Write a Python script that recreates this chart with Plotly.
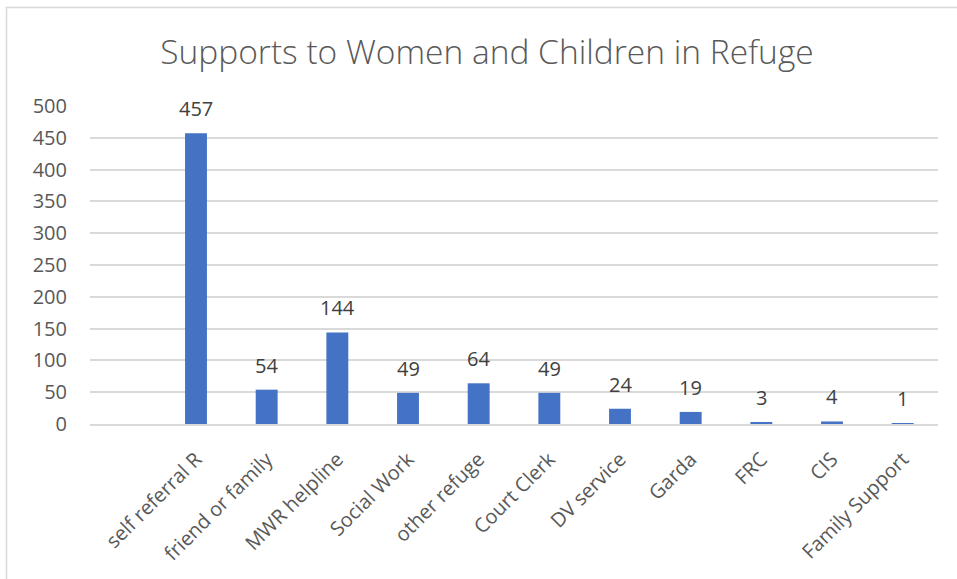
import plotly.graph_objects as go

categories = [" ", "self referral R", "friend or family", "MWR helpline", "Social Work",
              "other refuge", "Court Clerk", "DV service", "Garda", "FRC", "CIS", "Family Support"]
values = [None, 457, 54, 144, 49, 64, 49, 24, 19, 3, 4, 1]
y_ticks = [0, 50, 100, 150, 200, 250, 300, 350, 400, 450, 500]

W, H = 957, 579
L, R, T, B = 90, 19, 106, 155
pw, ph = W - L - R, H - T - B

fig = go.Figure()
fig.add_trace(go.Bar(
    x=categories, y=values,
    marker=dict(color="#4472C4", line=dict(width=0)),
    hoverinfo="x+y",
))

for c, v in zip(categories, values):
    if v is None:
        continue
    fig.add_annotation(x=c, y=v, text=str(v), showarrow=False, yanchor="bottom",
                       yshift=9, font=dict(family="Open Sans", size=20, color="#404040"))

# outer chart border
fig.add_shape(type="rect", xref="paper", yref="paper",
              x0=(6.5 - L) / pw, x1=(W + 5 - L) / pw,
              y0=(H - B - (H + 5)) / ph, y1=(H - B - 7.5) / ph,
              line=dict(color="#D9D9D9", width=1.5), fillcolor="rgba(0,0,0,0)", layer="below")

fig.update_layout(
    width=W, height=H,
    margin=dict(l=L, r=R, t=T, b=B),
    paper_bgcolor="white", plot_bgcolor="white",
    bargap=0.69,
    showlegend=False,
    title=dict(text="Supports to Women and Children in Refuge", x=(487 - L) / pw, xanchor="center",
               xref="paper", y=(H - 52) / H, yanchor="middle",
               font=dict(family="Open Sans", size=33.5, color="#595959", weight=300)),
    font=dict(family="Open Sans", size=20, color="#595959"),
)
fig.update_xaxes(type="category", categoryorder="array", categoryarray=categories,
                 tickangle=-45, showgrid=False, showline=True, linecolor="#D9D9D9", linewidth=1.5,
                 ticks="", ticklabelstandoff=14, tickfont=dict(size=20, color="#595959"))
fig.update_yaxes(range=[0, 500], tickvals=y_ticks, showgrid=True, gridcolor="#D9D9D9", gridwidth=1.5,
                 zeroline=False, showline=False, ticks="", ticklabelstandoff=22,
                 tickfont=dict(size=20, color="#595959"))

fig.write_html("out.html")
